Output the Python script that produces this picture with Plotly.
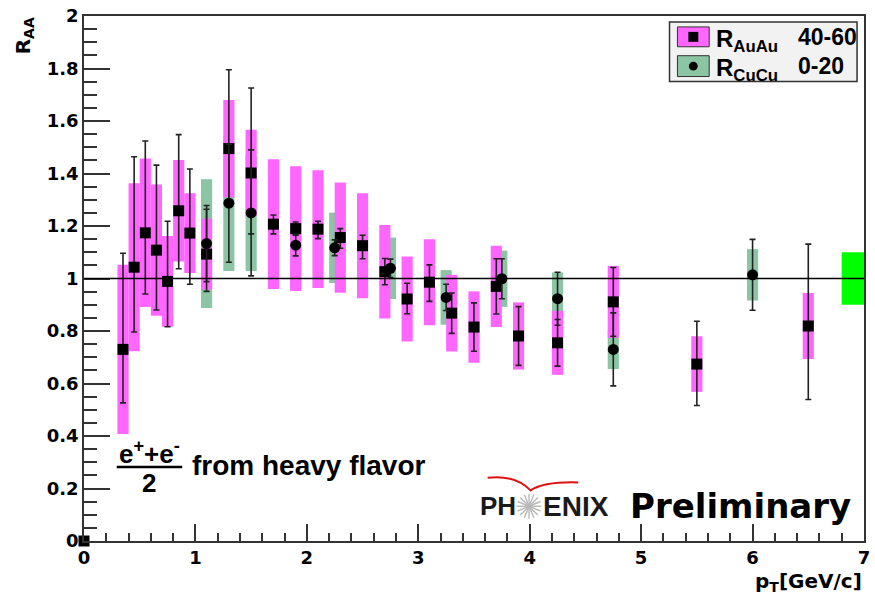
import math
import plotly.graph_objects as go

# ---------------- data ----------------
# R_AuAu 40-60 (squares); first entry is the marker drawn at the origin
au_x = [0.0, 0.35, 0.45, 0.55, 0.65, 0.75, 0.85, 0.95, 1.1, 1.3, 1.5, 1.7, 1.9,
        2.1, 2.3, 2.5, 2.7, 2.9, 3.1, 3.3, 3.5, 3.7, 3.9, 4.25, 4.75, 5.5, 6.5]
au_y = [0.0, 0.730, 1.043, 1.174, 1.108, 0.989, 1.258, 1.173, 1.093, 1.495, 1.402, 1.207, 1.190,
        1.188, 1.156, 1.125, 1.026, 0.922, 0.986, 0.868, 0.815, 0.970, 0.781, 0.755, 0.911, 0.674, 0.819]
au_stat_up = [0.0, 0.366, 0.421, 0.350, 0.324, 0.229, 0.290, 0.244, 0.171, 0.300, 0.324, 0.035, 0.025,
              0.030, 0.034, 0.040, 0.050, 0.060, 0.066, 0.077, 0.092, 0.105, 0.112, 0.089, 0.131, 0.163, 0.312]
au_stat_dn = [0.0, 0.204, 0.247, 0.233, 0.228, 0.173, 0.221, 0.195, 0.142, 0.220, 0.232, 0.037, 0.025,
              0.036, 0.041, 0.050, 0.050, 0.056, 0.073, 0.077, 0.092, 0.105, 0.112, 0.089, 0.131, 0.158, 0.280]
au_sys = [0.0, 0.322, 0.320, 0.283, 0.250, 0.173, 0.193, 0.152, 0.135, 0.185, 0.165, 0.247, 0.238,
          0.224, 0.210, 0.200, 0.178, 0.162, 0.164, 0.146, 0.136, 0.155, 0.128, 0.122, 0.137, 0.106, 0.126]

# R_CuCu 0-20 (circles)
cu_x = [1.1, 1.3, 1.5, 1.9, 2.25, 2.75, 3.25, 3.75, 4.25, 4.75, 6.0]
cu_y = [1.133, 1.287, 1.250, 1.127, 1.117, 1.039, 0.928, 0.999, 0.923, 0.730, 1.014]
cu_stat = [0.145, 0.225, 0.240, 0.041, 0.030, 0.035, 0.050, 0.076, 0.101, 0.139, 0.135]
cu_sys = [0.245, 0.258, 0.221, 0.160, 0.134, 0.117, 0.104, 0.107, 0.100, 0.075, 0.098]

# global normalisation uncertainty
norm_x = [6.9]
norm_y = [1.0]
norm_sys = [0.1]

x_range = [0, 7]
y_range = [0, 2]

PINK = "#ff66ff"
GREEN = "#8bc5a3"
NORM = "#00ff00"
INK = "#222222"

# ---------------- figure ----------------
fig = go.Figure()

fig.add_trace(go.Bar(x=cu_x, y=[2 * s for s in cu_sys],
                     base=[v - s for v, s in zip(cu_y, cu_sys)],
                     width=0.1, marker=dict(color=GREEN, line=dict(width=0)),
                     showlegend=False, hoverinfo="skip"))
fig.add_trace(go.Bar(x=au_x, y=[2 * s for s in au_sys],
                     base=[v - s for v, s in zip(au_y, au_sys)],
                     width=0.1, marker=dict(color=PINK, line=dict(width=0)),
                     showlegend=False, hoverinfo="skip"))
fig.add_trace(go.Bar(x=norm_x, y=[2 * s for s in norm_sys],
                     base=[v - s for v, s in zip(norm_y, norm_sys)],
                     width=0.2, marker=dict(color=NORM, line=dict(width=0)),
                     showlegend=False, hoverinfo="skip"))

fig.add_trace(go.Scatter(x=au_x, y=au_y, mode="markers",
                         marker=dict(symbol="square", size=11, color="black"),
                         error_y=dict(type="data", symmetric=False, array=au_stat_up,
                                      arrayminus=au_stat_dn, color=INK, thickness=1.6, width=3),
                         cliponaxis=False, showlegend=False))
fig.add_trace(go.Scatter(x=cu_x, y=cu_y, mode="markers",
                         marker=dict(symbol="circle", size=11, color="black"),
                         error_y=dict(type="data", array=cu_stat, color=INK, thickness=1.6, width=3),
                         cliponaxis=False, showlegend=False))

# ---------------- helpers for decorations (pixel -> paper) ----------------
L, R, T, B = 84, 870, 12, 541
W, H = R - L, B - T


def pxx(v):
    return (v - L) / W


def pxy(v):
    return (B - v) / H


shapes = []
# reference line at 1
shapes.append(dict(type="line", xref="x", yref="y", x0=x_range[0], x1=x_range[1], y0=1, y1=1,
                   line=dict(color="black", width=1.5), layer="above"))

# legend box
shapes.append(dict(type="rect", xref="paper", yref="paper",
                   x0=pxx(674), x1=pxx(863), y0=pxy(78), y1=pxy(18),
                   fillcolor="#f2f2f2", line=dict(color="#333333", width=1.5), layer="above"))
shapes.append(dict(type="rect", xref="paper", yref="paper",
                   x0=pxx(682), x1=pxx(714), y0=pxy(43), y1=pxy(23),
                   fillcolor=PINK, line=dict(color="#333333", width=1), layer="above"))
shapes.append(dict(type="rect", xref="paper", yref="paper",
                   x0=pxx(693), x1=pxx(703), y0=pxy(38), y1=pxy(28),
                   fillcolor="black", line=dict(width=0), layer="above"))
shapes.append(dict(type="rect", xref="paper", yref="paper",
                   x0=pxx(682), x1=pxx(714), y0=pxy(73), y1=pxy(52),
                   fillcolor=GREEN, line=dict(color="#333333", width=1), layer="above"))
shapes.append(dict(type="circle", xref="paper", yref="paper",
                   x0=pxx(693.5), x1=pxx(702.5), y0=pxy(67), y1=pxy(58),
                   fillcolor="black", line=dict(width=0), layer="above"))

# fraction bar
shapes.append(dict(type="line", xref="paper", yref="paper",
                   x0=pxx(117), x1=pxx(183), y0=pxy(466.5), y1=pxy(466.5),
                   line=dict(color="black", width=2.5), layer="above"))


def P(a, b):
    return f"{pxx(a):.5f},{pxy(b):.5f}"


# PHENIX red arc
arc = (f"M {P(490.7, 477.3)} Q {P(518, 474)} {P(534, 490)} "
       f"Q {P(548, 481)} {P(582, 482)}")
shapes.append(dict(type="path", xref="paper", yref="paper", path=arc,
                   line=dict(color="#e01010", width=2), layer="above"))

# PHENIX starburst (thin grey spokes)
cx, cy, rad = 532.5, 506.0, 12.5
for k in range(8):
    a = math.pi * k / 8
    dx, dy = rad * math.cos(a), rad * math.sin(a)
    shapes.append(dict(type="line", xref="paper", yref="paper",
                       x0=pxx(cx - dx), x1=pxx(cx + dx), y0=pxy(cy - dy), y1=pxy(cy + dy),
                       line=dict(color="#b8b8b8", width=1.4), layer="above"))

annotations = []


def ann(text, x, y, size, family="Liberation Sans", xa="left", ya="middle", color="black", angle=0):
    annotations.append(dict(text=text, x=pxx(x), y=pxy(y), xref="paper", yref="paper",
                            xanchor=xa, yanchor=ya, showarrow=False, textangle=angle,
                            font=dict(family=family, size=size, color=color, weight="bold")))


# legend texts
ann("R<sub>AuAu</sub>", 719, 37, 24)
ann("40-60", 801, 33, 23)
ann("R<sub>CuCu</sub>", 719, 66, 24)
ann("0-20", 801, 62, 23)

# physics label
ann("e<sup>+</sup>+e<sup>-</sup>", 150, 452, 26, xa="center")
ann("2", 150, 483, 26, xa="center")
ann("from heavy flavor", 191, 465, 28)

# PHENIX Preliminary
ann("PH", 481, 506, 26, color="#1a1a1a")
ann("ENIX", 545, 506, 28, color="#1a1a1a")
ann("Preliminary", 632, 506, 34, family="DejaVu Sans")

# axis titles
ann("p<sub>T</sub>[GeV/c]", 870, 582, 20, family="DejaVu Sans", xa="right")
ann("R<sub>AA</sub>", 23, 32, 20, family="DejaVu Sans", xa="center", angle=-90)

tickfont = dict(family="DejaVu Sans", size=18, color="black", weight="bold")

fig.update_layout(
    width=875, height=598,
    margin=dict(l=L, r=875 - R, t=T, b=598 - B),
    paper_bgcolor="white", plot_bgcolor="white",
    barmode="overlay",
    showlegend=False,
    shapes=shapes,
    annotations=annotations,
    xaxis=dict(range=x_range, dtick=1, tick0=0, ticks="inside", ticklen=17, tickwidth=1.5,
               tickcolor="#333333", showline=True, linecolor="#333333", linewidth=1.5,
               mirror=True, showgrid=False, zeroline=False, tickfont=tickfont,
               minor=dict(dtick=0.2, ticks="inside", ticklen=8, tickwidth=1.5,
                          tickcolor="#333333", showgrid=False)),
    yaxis=dict(range=y_range, dtick=0.2, tick0=0, ticks="inside", ticklen=26, tickwidth=1.5,
               tickcolor="#333333", showline=True, linecolor="#333333", linewidth=1.5,
               mirror=True, showgrid=False, zeroline=False, tickfont=tickfont,
               minor=dict(dtick=0.05, ticks="inside", ticklen=13, tickwidth=1.5,
                          tickcolor="#333333", showgrid=False)),
)

fig.write_html("out.html")
